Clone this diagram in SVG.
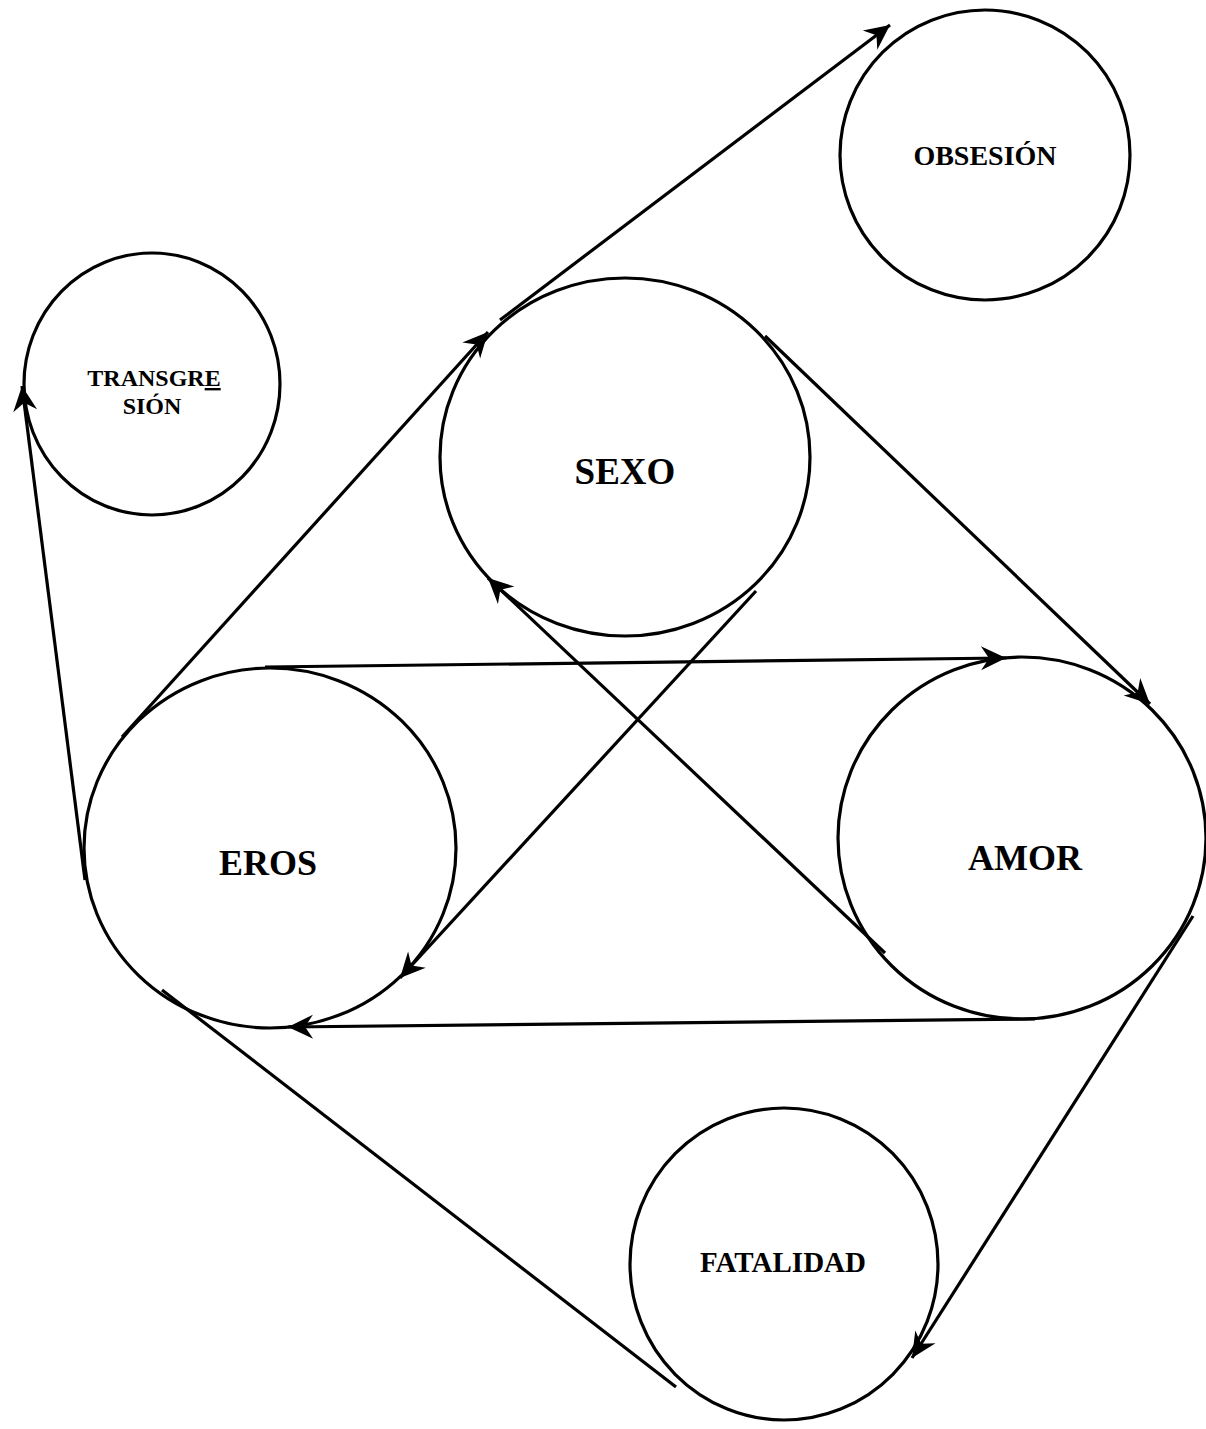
<svg xmlns="http://www.w3.org/2000/svg" width="1206" height="1429" viewBox="0 0 1206 1429">
<style>
.node{fill:none;stroke:#000;stroke-width:3.2}
.lbl{font-family:"Liberation Serif","Times New Roman",serif;font-weight:bold;fill:#000;text-anchor:middle}
.edge{fill:none;stroke:#000;stroke-width:3.2}
</style>
<defs>
<marker id="ah" markerUnits="userSpaceOnUse" markerWidth="30" markerHeight="30" viewBox="-26 -14 30 28" refX="0" refY="0" orient="auto">
<path d="M0,0 L-25,-12 L-17,0 L-25,12 Z" fill="#000"/>
</marker>
</defs>
<rect width="1206" height="1429" fill="#fff"/>
<g id="obsesion">
<ellipse class="node" cx="985" cy="155" rx="145" ry="145"/>
<text class="lbl" x="985" y="165" font-size="28">OBSESIÓN</text>
</g>
<g id="transgresion">
<ellipse class="node" cx="152" cy="384" rx="128" ry="131"/>
<text class="lbl" x="154" y="386" font-size="24">TRANSGR<tspan text-decoration="underline">E</tspan></text>
<text class="lbl" x="152" y="414" font-size="24">SIÓN</text>
</g>
<g id="sexo">
<ellipse class="node" cx="625" cy="457" rx="185" ry="179"/>
<text class="lbl" x="625" y="484" font-size="37">SEXO</text>
</g>
<g id="eros">
<ellipse class="node" cx="270" cy="848" rx="186" ry="180"/>
<text class="lbl" x="268" y="875" font-size="36">EROS</text>
</g>
<g id="amor">
<ellipse class="node" cx="1022" cy="838" rx="184" ry="181"/>
<text class="lbl" x="1025" y="870" font-size="36">AMOR</text>
</g>
<g id="fatalidad">
<ellipse class="node" cx="784" cy="1264" rx="154" ry="156"/>
<text class="lbl" x="783" y="1272" font-size="29">FATALIDAD</text>
</g>
<g id="connectors">
<line class="edge" x1="122" y1="737" x2="488" y2="332" marker-end="url(#ah)"/>
<line class="edge" x1="500" y1="320" x2="890" y2="25" marker-end="url(#ah)"/>
<line class="edge" x1="85" y1="880" x2="22" y2="386" marker-end="url(#ah)"/>
<line class="edge" x1="265" y1="667" x2="1006" y2="658" marker-end="url(#ah)"/>
<line class="edge" x1="765" y1="336" x2="1150" y2="704" marker-end="url(#ah)"/>
<line class="edge" x1="756" y1="591" x2="400" y2="978" marker-end="url(#ah)"/>
<line class="edge" x1="885" y1="953" x2="488" y2="578" marker-end="url(#ah)"/>
<line class="edge" x1="1035" y1="1019" x2="288" y2="1027" marker-end="url(#ah)"/>
<line class="edge" x1="1193" y1="916" x2="912" y2="1358" marker-end="url(#ah)"/>
<line class="edge" x1="162" y1="990" x2="676" y2="1387"/>
</g>
</svg>
